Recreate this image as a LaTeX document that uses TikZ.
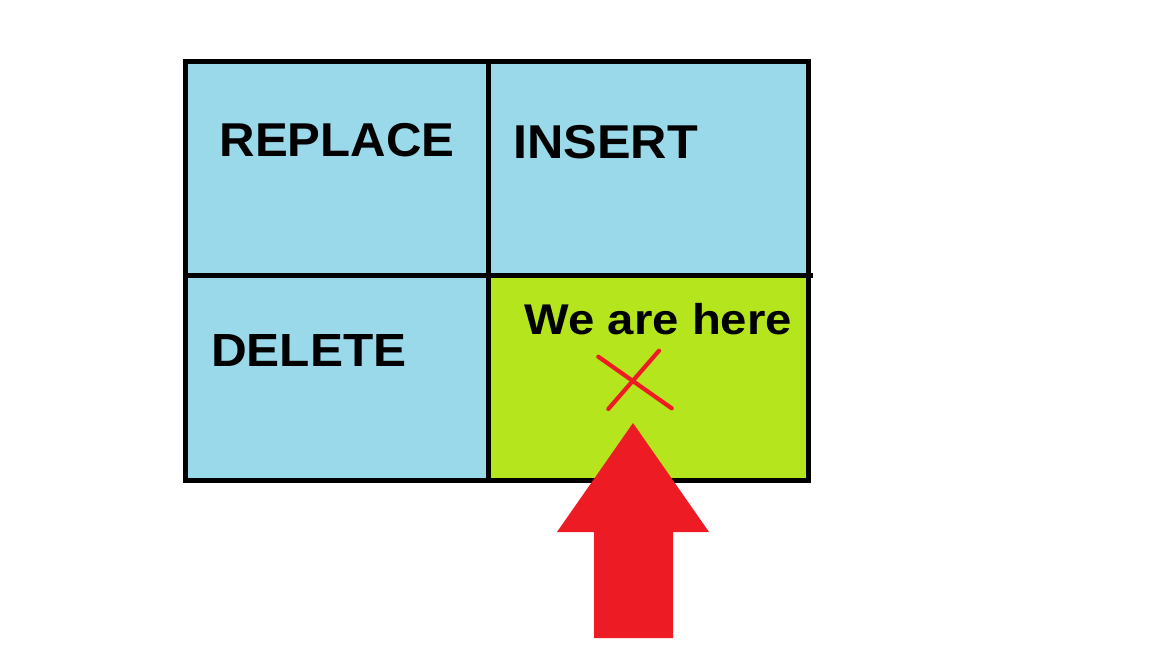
\documentclass[tikz,border=0pt]{standalone}
\usepackage{fontspec}
\setmainfont{Liberation Sans}
\definecolor{cellblue}{RGB}{153,217,234}
\definecolor{cellgreen}{RGB}{181,230,29}
\definecolor{arrowred}{RGB}{237,28,36}
\tikzset{
  gridline/.style={draw=black, line width=4.5pt},
  label/.style={inner sep=0pt, anchor=base west, font=\bfseries},
  xmark/.style={draw=arrowred, line width=4.2pt, line cap=round},
}
\begin{document}
\begin{tikzpicture}[x=1pt, y=-1pt]
\useasboundingbox (0,0) rectangle (1152,648);
\fill[white] (0,0) rectangle (1152,648);
% cells
\fill[cellblue] (185.5,61.7) rectangle (808.3,480.5);
\fill[cellgreen] (488.4,275.3) rectangle (808.3,480.5);
% grid
\draw[gridline] (185.5,61.7) rectangle (808.3,480.5);
\draw[gridline] (488.4,61.7) -- (488.4,480.5);
\draw[gridline] (185.5,275.3) -- (813,275.3);
% labels
\node[label, font=\bfseries\fontsize{47.5}{50}\selectfont] (replace) at (219.5,156.7) {\scalebox{1.035}[1]{REPLACE}};
\node[label, font=\bfseries\fontsize{47.5}{50}\selectfont] (insert) at (513,158.3) {\scalebox{1.06}[1]{INSERT}};
\node[label, font=\bfseries\fontsize{46.5}{50}\selectfont] (delete) at (211,366) {\scalebox{1.065}[1]{DELETE}};
\node[label, font=\bfseries\fontsize{43}{46}\selectfont] (here) at (524.5,334) {\scalebox{1.1}[1]{We are here}};
% red X
\coordinate (xa1) at (598.3,356.7);
\coordinate (xa2) at (671.7,408.3);
\coordinate (xb1) at (659,350.7);
\coordinate (xb2) at (608.3,409);
\draw[xmark] (xa1) -- (xa2);
\draw[xmark] (xb1) -- (xb2);
% arrow
\fill[arrowred] (633,423) -- (709,532) -- (673,532) -- (673,638) -- (594,638) -- (594,532) -- (557,532) -- cycle;
\end{tikzpicture}
\end{document}
